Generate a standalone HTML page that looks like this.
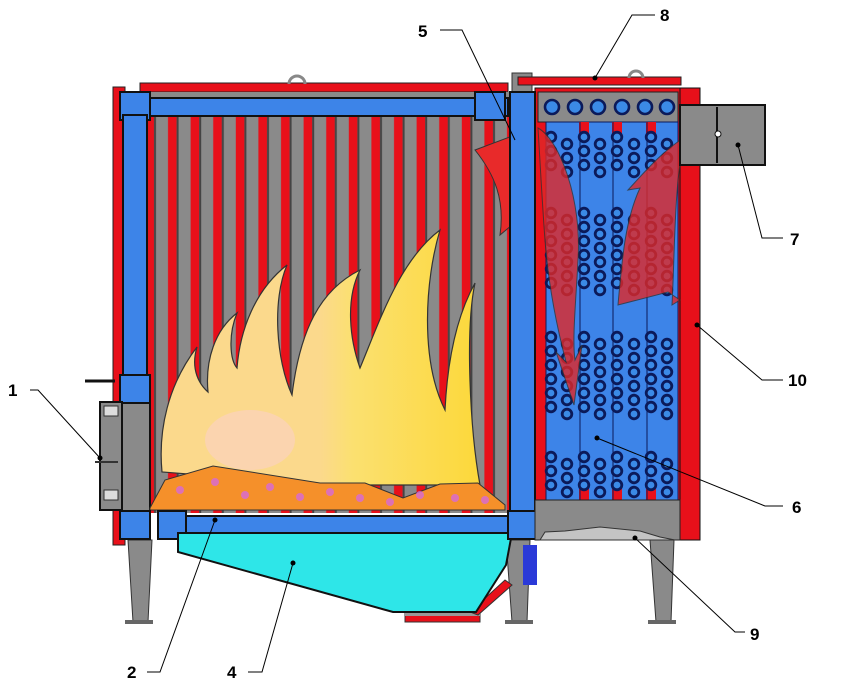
<!DOCTYPE html>
<html><head><meta charset="utf-8"><style>
html,body{margin:0;padding:0;background:#fff;}
svg{display:block;}
text{font-family:"Liberation Sans",Arial,sans-serif;font-weight:bold;font-size:17px;fill:#000;}
</style></head><body>
<svg id="s" width="849" height="692" viewBox="0 0 849 692" xmlns="http://www.w3.org/2000/svg">
<defs>
<pattern id="tubes" x="148" y="0" width="22.6" height="10" patternUnits="userSpaceOnUse">
<rect width="22.6" height="10" fill="#e8101a"/>
<rect x="6" width="14" height="10" fill="#8a8a8a"/>
<rect x="6" width="2" height="10" fill="#444"/>
</pattern>
<linearGradient id="fl" x1="0" x2="1" y1="0" y2="0">
<stop offset="0" stop-color="#fbd98c"/><stop offset="0.5" stop-color="#fbd98c"/><stop offset="0.6" stop-color="#fbe070"/><stop offset="1" stop-color="#fcd83a"/>
</linearGradient>
</defs>

<polygon points="128,540 152,540 148,622 133,622" fill="#8a8a8a" stroke="#333"/>
<rect x="125" y="620" width="28" height="4" fill="#666"/>
<polygon points="506,540 530,540 527,622 512,622" fill="#8a8a8a" stroke="#333"/>
<rect x="505" y="620" width="28" height="4" fill="#666"/>
<polygon points="650,540 674,540 671,622 656,622" fill="#8a8a8a" stroke="#333"/>
<rect x="648" y="620" width="28" height="4" fill="#666"/>
<rect x="405" y="612" width="75" height="10" fill="#e8101a" stroke="#333"/>
<rect x="405" y="612" width="75" height="4" fill="#999"/>
<polygon points="470,612 505,580 512,585 478,615" fill="#e8101a" stroke="#333"/>
<rect x="523" y="545" width="14" height="40" fill="#2b3ad8"/>

<rect x="113" y="87" width="12" height="458" fill="#e8101a" stroke="#222" stroke-width="1"/>
<rect x="140" y="83" width="368" height="9" fill="#e8101a" stroke="#222"/>
<path d="M289,84 a8,8 0 1 1 16,0" fill="none" stroke="#888" stroke-width="3"/>
<rect x="147" y="113" width="362" height="400" fill="url(#tubes)"/>
<rect x="147" y="92" width="362" height="8" fill="#8a8a8a"/>
<rect x="120" y="98" width="388" height="18" fill="#3d84e8" stroke="#111" stroke-width="2"/>
<rect x="120" y="92" width="30" height="28" fill="#3d84e8" stroke="#111" stroke-width="2"/>
<rect x="475" y="92" width="30" height="28" fill="#3d84e8" stroke="#111" stroke-width="2"/>
<rect x="123" y="115" width="24" height="400" fill="#3d84e8" stroke="#111" stroke-width="2"/>
<rect x="120" y="375" width="30" height="28" fill="#3d84e8" stroke="#111" stroke-width="2"/>
<rect x="122" y="403" width="28" height="108" fill="#8a8a8a" stroke="#111" stroke-width="2"/>
<rect x="100" y="402" width="22" height="108" fill="#8a8a8a" stroke="#111" stroke-width="2"/>
<rect x="104" y="406" width="14" height="10" fill="#ddd" stroke="#333"/>
<rect x="104" y="490" width="14" height="10" fill="#ddd" stroke="#333"/>
<line x1="95" y1="462" x2="118" y2="462" stroke="#333" stroke-width="2"/>
<line x1="85" y1="381" x2="115" y2="381" stroke="#111" stroke-width="3"/>

<path d="M162,472 C158,430 168,385 197,347 C190,370 200,385 208,392 C205,360 215,330 237,313 C228,335 230,360 237,368 C240,330 255,290 287,265 C272,300 276,360 292,395 C300,330 320,290 360,270 C345,300 350,340 360,368 C380,320 400,260 440,230 C425,280 420,360 445,410 C448,350 460,310 475,283 C465,330 470,430 480,485 L330,485 Z" fill="url(#fl)" stroke="#333" stroke-width="1.2"/>
<ellipse cx="250" cy="440" rx="45" ry="30" fill="#fbd2b8" opacity="0.8"/>
<polygon points="150,508 165,480 213,466 320,483 365,483 403,498 440,484 478,483 505,505 505,510 150,510" fill="#f5902a" stroke="#333"/>
<g fill="#d86ad8" opacity="0.8">
<circle cx="180" cy="490" r="4"/><circle cx="215" cy="482" r="4"/><circle cx="245" cy="495" r="4"/><circle cx="270" cy="487" r="4"/><circle cx="300" cy="497" r="4"/><circle cx="330" cy="492" r="4"/><circle cx="360" cy="498" r="4"/><circle cx="390" cy="502" r="4"/><circle cx="420" cy="495" r="4"/><circle cx="455" cy="498" r="4"/><circle cx="485" cy="500" r="4"/>
</g>
<rect x="158" y="516" width="370" height="17" fill="#3d84e8" stroke="#111" stroke-width="2"/>
<rect x="120" y="511" width="30" height="28" fill="#3d84e8" stroke="#111" stroke-width="2"/>
<rect x="158" y="511" width="28" height="28" fill="#3d84e8" stroke="#111" stroke-width="2"/>
<polygon points="178,533 178,552 393,612 476,612 506,565 512,533" fill="#2ee6e8" stroke="#111" stroke-width="2"/>

<rect x="512" y="73" width="20" height="20" fill="#8a8a8a" stroke="#333"/>
<rect x="518" y="77" width="163" height="8" fill="#e8101a" stroke="#222"/>
<path d="M629,78 a7,7 0 1 1 14,0" fill="none" stroke="#888" stroke-width="3"/>
<rect x="535" y="88" width="146" height="432" fill="#e8101a" stroke="#111"/>
<rect x="680" y="88" width="20" height="452" fill="#e8101a" stroke="#111"/>
<rect x="538" y="92" width="140" height="30" fill="#8a8a8a" stroke="#222"/>
<g fill="#3b8ae6" stroke="#0b1a5a" stroke-width="2.6">
<circle cx="552" cy="107" r="7"/><circle cx="575" cy="107" r="7"/><circle cx="598" cy="107" r="7"/><circle cx="622" cy="107" r="7"/><circle cx="645" cy="107" r="7"/><circle cx="667" cy="107" r="7"/>
</g>
<rect x="546" y="122" width="132" height="378" fill="#3d84e8" stroke="#0b1a5a"/>
<g fill="#e8101a">
<rect x="579" y="122" width="10" height="14"/><rect x="612" y="122" width="10" height="14"/><rect x="646" y="122" width="10" height="14"/>
<rect x="579" y="486" width="10" height="14"/><rect x="612" y="486" width="10" height="14"/><rect x="646" y="486" width="10" height="14"/>
</g>
<g stroke="#0b1a5a" stroke-width="1">
<line x1="580" y1="122" x2="580" y2="500"/><line x1="613" y1="122" x2="613" y2="500"/><line x1="647" y1="122" x2="647" y2="500"/>
</g>
<g id="rings" fill="#3b8ae6" stroke="#0b1a5a" stroke-width="2.8"></g>
<path d="M538,128 C560,140 582,200 578,260 C576,300 572,340 575,360 L582,345 L574,405 L556,352 L566,362 C555,320 548,280 545,240 C542,200 540,160 538,128 Z" fill="#e02828" opacity="0.8" stroke="#333"/>
<path d="M618,305 C622,260 625,220 640,188 L628,190 C648,168 664,150 685,137 C674,180 675,250 672,305 L680,300 L668,292 Z" fill="#e02828" opacity="0.8" stroke="#333"/>
<path d="M475,150 L515,135 L512,225 L500,235 C505,200 495,175 475,150 Z" fill="#e82a2a" stroke="#333"/>
<rect x="510" y="92" width="25" height="447" fill="#3d84e8" stroke="#111" stroke-width="2"/>
<rect x="508" y="511" width="30" height="28" fill="#3d84e8" stroke="#111" stroke-width="2"/>
<rect x="535" y="500" width="145" height="40" fill="#8a8a8a" stroke="#222"/>
<polygon points="540,540 545,532 565,531 600,527 640,531 660,537 675,540" fill="#c4c4c4" stroke="#333"/>
<rect x="680" y="105" width="85" height="60" fill="#8a8a8a" stroke="#111" stroke-width="2"/>
<line x1="717" y1="107" x2="717" y2="163" stroke="#111" stroke-width="2"/>
<circle cx="718" cy="134" r="3" fill="#fff" stroke="#111"/>

<g stroke="#000" stroke-width="1" fill="none">
<polyline points="30,390 38,390 100,458"/>
<polyline points="147,672 160,672 215,520"/>
<polyline points="248,672 262,672 293,563"/>
<polyline points="440,30 462,30 515,140"/>
<polyline points="655,15 632,15 595,78"/>
<polyline points="783,238 762,238 738,145"/>
<polyline points="783,380 762,380 697,325"/>
<polyline points="783,506 765,506 597,438"/>
<polyline points="745,632 735,632 635,538"/>
</g>
<g fill="#000">
<circle cx="100" cy="458" r="2.5"/><circle cx="215" cy="520" r="2.5"/><circle cx="293" cy="563" r="2.5"/>
<circle cx="595" cy="78" r="2.5"/><circle cx="738" cy="145" r="2.5"/><circle cx="697" cy="325" r="2.5"/><circle cx="597" cy="438" r="2.5"/><circle cx="635" cy="538" r="2.5"/>
</g>
<text x="8" y="396">1</text>
<text x="127" y="678">2</text>
<text x="227" y="678">4</text>
<text x="418" y="37">5</text>
<text x="792" y="513">6</text>
<text x="790" y="245">7</text>
<text x="660" y="21">8</text>
<text x="750" y="640">9</text>
<text x="788" y="386">10</text>
</svg>
<script>
(function(){
var g=document.getElementById('rings');var ns='http://www.w3.org/2000/svg';
var odd=[551,584,617,651],even=[567,600,634,667];
var groups=[[137,3],[213,6],[337,6],[457,3]];
groups.forEach(function(gr){
 odd.forEach(function(x){for(var i=0;i<gr[1];i++){add(x,gr[0]+i*14);}});
 even.forEach(function(x){for(var i=0;i<gr[1];i++){add(x,gr[0]+7+i*14);}});
});
function add(x,y){var c=document.createElementNS(ns,'circle');c.setAttribute('cx',x);c.setAttribute('cy',y);c.setAttribute('r',4.8);g.appendChild(c);}
})();
</script>
</body></html>
